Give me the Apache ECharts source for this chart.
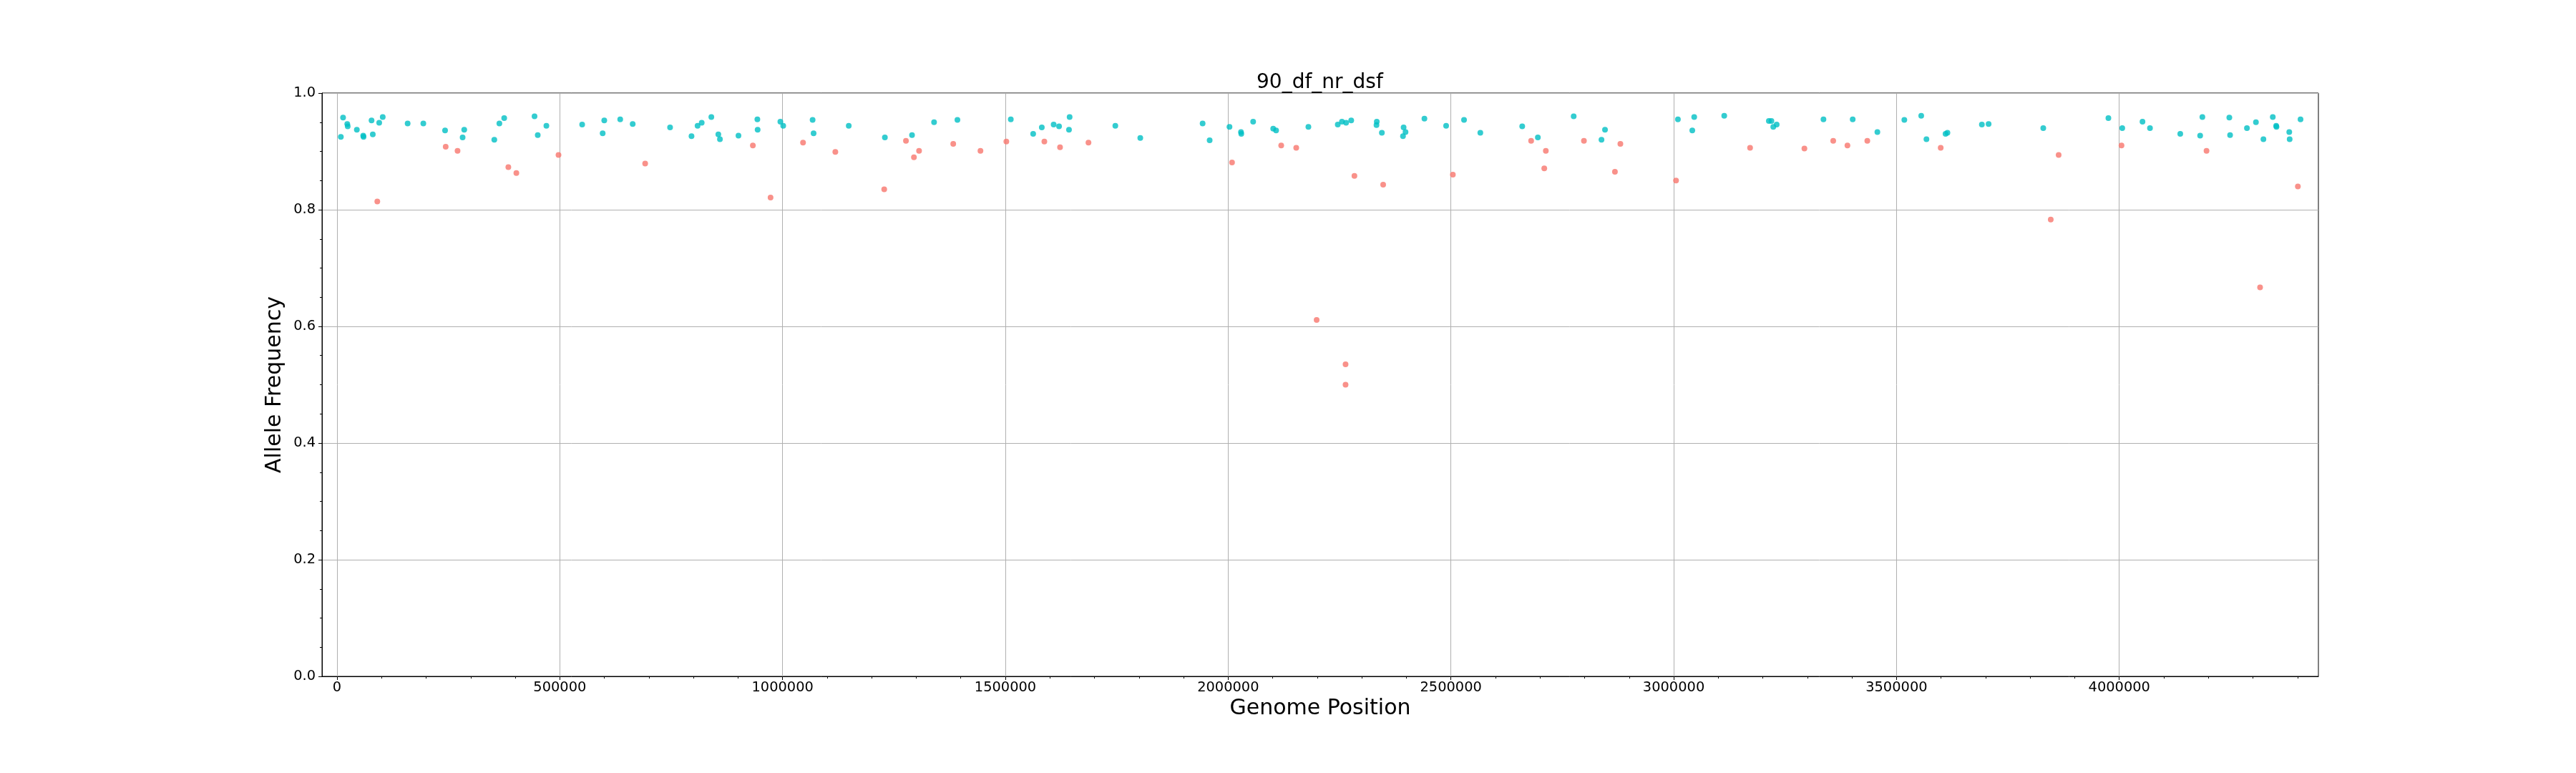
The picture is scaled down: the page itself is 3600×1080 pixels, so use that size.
<!DOCTYPE html>
<html>
<head>
<meta charset="utf-8">
<script src="https://cdn.jsdelivr.net/npm/echarts@6/dist/echarts.min.js"></script>
<style>html,body{margin:0;padding:0;background:#fff}#c{width:3600px;height:1080px}</style>
</head>
<body>
<div id="c"></div>
<script>
const chartTitle = '90_df_nr_dsf';
const xName = 'Genome Position';
const yName = 'Allele Frequency';
const xTickValues = [0, 500000, 1000000, 1500000, 2000000, 2500000, 3000000, 3500000, 4000000];
const yTickValues = [0, 0.2, 0.4, 0.6, 0.8, 1.0];
const xRange = [-33700, 4446900];
const yRange = [0, 1];

// teal group
const highPos = [8600, 13600, 23000, 24000, 44500, 58800, 59500, 77500, 80300, 94700,
  102600, 158500, 193700, 242500, 281900, 285500, 353000, 364400, 375200, 443300,
  450500, 469900, 550200, 596200, 599800, 635600, 663600, 747500, 795600, 809200,
  818500, 840100, 855800, 859400, 901000, 943400, 944000, 995000, 1001400, 1067400,
  1069600, 1148500, 1229600, 1290500, 1340000, 1392400, 1512200, 1562400, 1581800, 1608400,
  1620500, 1644200, 1642800, 1746800, 1802800, 1942700, 1958500, 2003000, 2028800, 2029500,
  2056100, 2101100, 2107600, 2180100, 2246000, 2255400, 2264700, 2276200, 2333600, 2332900,
  2345000, 2393800, 2398100, 2392400, 2440500, 2489200, 2529400, 2566000, 2660000, 2695100,
  2775500, 2845800, 2837900, 3009400, 3046000, 3041700, 3113400, 3213500, 3219300, 3231100,
  3223500, 3336100, 3401700, 3457100, 3517600, 3555500, 3567200, 3610100, 3614300, 3691600,
  3706700, 3829400, 3975600, 4006700, 4052100, 4068900, 4136900, 4181500, 4186500, 4247000,
  4248700, 4286500, 4306700, 4323500, 4344500, 4352100, 4352800, 4381500, 4382400, 4406800];
const highAF = [0.925, 0.958, 0.947, 0.943, 0.937, 0.927, 0.925, 0.953, 0.929, 0.949,
  0.959, 0.948, 0.948, 0.936, 0.924, 0.937, 0.920, 0.948, 0.957, 0.960,
  0.928, 0.944, 0.946, 0.931, 0.953, 0.955, 0.947, 0.941, 0.926, 0.944,
  0.949, 0.959, 0.929, 0.921, 0.927, 0.955, 0.937, 0.951, 0.944, 0.954,
  0.931, 0.944, 0.924, 0.928, 0.950, 0.954, 0.955, 0.930, 0.941, 0.946,
  0.943, 0.959, 0.937, 0.944, 0.923, 0.948, 0.919, 0.942, 0.933, 0.930,
  0.951, 0.939, 0.936, 0.942, 0.946, 0.951, 0.949, 0.953, 0.951, 0.945,
  0.932, 0.941, 0.933, 0.926, 0.956, 0.944, 0.954, 0.932, 0.943, 0.924,
  0.960, 0.937, 0.920, 0.955, 0.959, 0.936, 0.961, 0.952, 0.952, 0.946,
  0.942, 0.955, 0.955, 0.933, 0.954, 0.961, 0.921, 0.930, 0.932, 0.946,
  0.947, 0.940, 0.957, 0.940, 0.951, 0.940, 0.930, 0.927, 0.959, 0.958,
  0.928, 0.940, 0.950, 0.921, 0.959, 0.944, 0.942, 0.933, 0.921, 0.955];

// salmon group
const lowPos = [90400, 243900, 270500, 384500, 402500, 497100, 691600, 933300, 973000, 1045900,
  1118400, 1228100, 1276900, 1294800, 1306300, 1383000, 1444100, 1502200, 1587500, 1622700,
  1686500, 2008700, 2119100, 2152800, 2198600, 2263500, 2263500, 2283400, 2347900, 2504300,
  2680000, 2709500, 2713000, 2798500, 2868100, 2880300, 3005200, 3171400, 3293300, 3358000,
  3389900, 3434500, 3599200, 3846200, 3863900, 4005000, 4195800, 4316000, 4400800];
const lowAF = [0.814, 0.908, 0.901, 0.873, 0.863, 0.894, 0.879, 0.910, 0.821, 0.915,
  0.899, 0.835, 0.918, 0.890, 0.901, 0.913, 0.901, 0.917, 0.917, 0.907,
  0.915, 0.881, 0.910, 0.906, 0.611, 0.535, 0.500, 0.858, 0.843, 0.860,
  0.918, 0.871, 0.901, 0.918, 0.865, 0.913, 0.850, 0.906, 0.905, 0.918,
  0.910, 0.918, 0.906, 0.783, 0.894, 0.910, 0.901, 0.667, 0.840];

const FONT = 'DejaVu Sans';
const chart = echarts.init(document.getElementById('c'), null, {renderer: 'canvas'});
chart.setOption({
  animation: false,
  backgroundColor: '#ffffff',
  title: {
    text: chartTitle, left: 1751, top: 97,
    textStyle: {fontFamily: FONT, fontSize: 28, fontWeight: 'normal', color: '#000'}
  },
  grid: {left: 450, right: 360, top: 130, bottom: 135, show: true, borderColor: '#000', borderWidth: 1, backgroundColor: 'transparent'},
  xAxis: {
    type: 'value', min: xRange[0], max: xRange[1], splitNumber: 9,
    name: xName, nameLocation: 'middle', nameGap: 26,
    nameTextStyle: {fontFamily: FONT, fontSize: 30, color: '#000'},
    axisLine: {show: true, onZero: false, lineStyle: {color: '#000', width: 1}},
    axisTick: {show: true, length: 5, lineStyle: {color: '#000', width: 1}, customValues: xTickValues},
    minorTick: {show: true, splitNumber: 5, length: 3, lineStyle: {color: '#000', width: 1}},
    axisLabel: {customValues: xTickValues, margin: 6, fontFamily: FONT, fontSize: 19.4, color: '#000', formatter: v => String(v)},
    splitLine: {show: true, lineStyle: {color: '#b0b0b0', width: 1}}
  },
  yAxis: {
    type: 'value', min: yRange[0], max: yRange[1], interval: 0.2,
    name: yName, nameLocation: 'middle', nameGap: 45, nameRotate: 90,
    nameTextStyle: {fontFamily: FONT, fontSize: 30, color: '#000'},
    axisLine: {show: true, onZero: false, lineStyle: {color: '#000', width: 1}},
    axisTick: {show: true, length: 5, lineStyle: {color: '#000', width: 1}},
    minorTick: {show: true, splitNumber: 4, length: 3, lineStyle: {color: '#000', width: 1}},
    axisLabel: {margin: 9, fontFamily: FONT, fontSize: 19.4, color: '#000', formatter: v => v.toFixed(1)},
    splitLine: {show: true, lineStyle: {color: '#b0b0b0', width: 1}}
  },
  series: [
    {
      type: 'scatter', silent: true, symbolSize: 8,
      data: highPos.map((x, i) => [x, highAF[i]]),
      itemStyle: {color: '#00BFC4', opacity: 0.8}
    },
    {
      type: 'scatter', silent: true, symbolSize: 8,
      data: lowPos.map((x, i) => [x, lowAF[i]]),
      itemStyle: {color: '#F8766D', opacity: 0.8}
    }
  ]
});
</script>
</body>
</html>
